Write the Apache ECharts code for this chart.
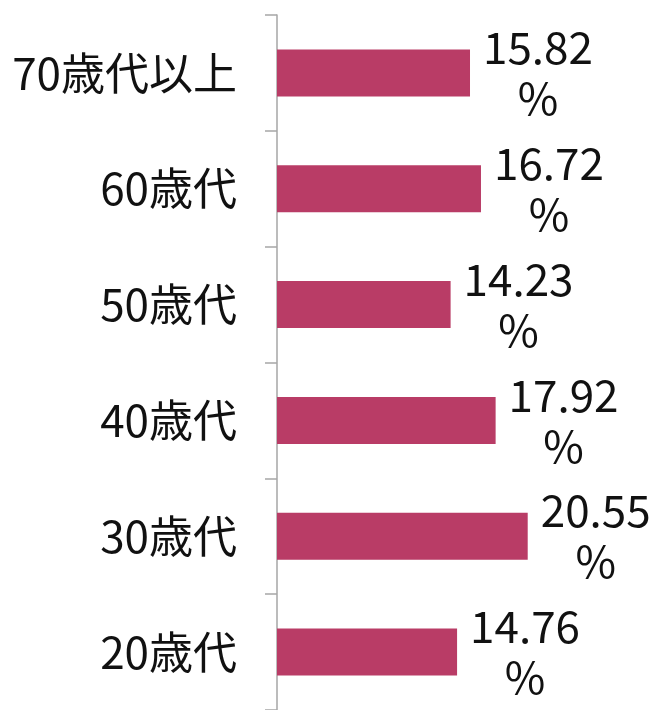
<!DOCTYPE html>
<html><head><meta charset="utf-8">
<script src="https://cdn.jsdelivr.net/npm/echarts@6/dist/echarts.min.js"></script>
<style>html,body{margin:0;padding:0;background:#fff}#c{width:659px;height:710px}</style>
</head><body><div id="c"></div>
<script>
const categories = ['70歳代以上', '60歳代', '50歳代', '40歳代', '30歳代', '20歳代'];
const shares = [15.82, 16.72, 14.23, 17.92, 20.55, 14.76];
const barColor = '#B93C66';
const font = '"Noto Sans CJK JP", "Noto Sans", sans-serif';

const chart = echarts.init(document.getElementById('c'));
chart.setOption({
  animation: false,
  grid: { left: 277, top: 15, width: 366, height: 701 },
  xAxis: { type: 'value', min: 0, max: 30, show: false, splitLine: { show: false } },
  yAxis: {
    type: 'category', inverse: true, data: categories,
    axisLine: { show: true, lineStyle: { color: '#A6A6A6', width: 1.5 } },
    axisTick: { show: true, length: 12, lineStyle: { color: '#A6A6A6', width: 1.5 } },
    axisLabel: { margin: 40, color: '#111', fontSize: 44, fontFamily: font }
  },
  series: [{
    type: 'bar', data: shares, barWidth: 47,
    itemStyle: { color: barColor },
    label: {
      show: true, position: 'right', distance: 13,
      formatter: p => '{v|' + p.value.toFixed(2) + '}\n{v|%}',
      rich: { v: { fontSize: 44, lineHeight: 51, color: '#111', fontFamily: font, align: 'center' } }
    }
  }]
});
</script></body></html>
